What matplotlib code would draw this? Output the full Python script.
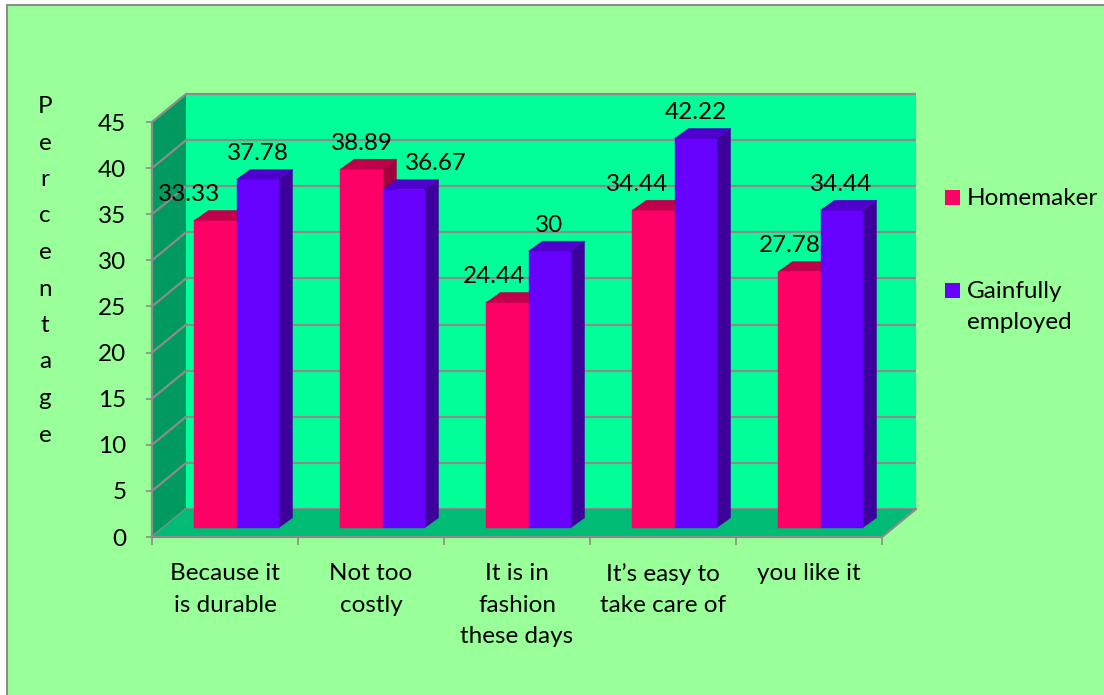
import numpy as np
import matplotlib
matplotlib.use("Agg")
import matplotlib.pyplot as plt
from matplotlib.patches import Rectangle, Polygon

plt.rcParams['font.family'] = ['Lato', 'DejaVu Sans']

# --- 資料 ---
categories = ["Because it\nis durable", "Not too\ncostly", "It is in\nfashion\nthese days",
              "It\u2019s easy to\ntake care of", "you like it"]
homemaker = [33.33, 38.89, 24.44, 34.44, 27.78]
employed = [37.78, 36.67, 30, 42.22, 34.44]
series_names = ["Homemaker", "Gainfully\nemployed"]
y_ticks = list(range(0, 50, 5))

# --- 顏色 ---
bg = "#99FF99"
wall_back = "#00FF99"
wall_side = "#009A60"
floor_col = "#00BB74"
grid_col = "#8C8C8C"
red_front, red_top, red_side = "#FF0066", "#C0004A", "#A0003C"
pur_front, pur_top, pur_side = "#6600FF", "#5000CC", "#3E009A"
fs = 17.5

W, H, DPI = 1104, 695, 100
fig = plt.figure(figsize=(W / DPI, H / DPI), dpi=DPI, facecolor="white")
# 外框
fig.add_artist(Rectangle((7 / W, -0.01), 1.02, (H - 5) / H + 0.01, transform=fig.transFigure,
                         facecolor=bg, edgecolor="#8C8C8C", lw=1.5, zorder=0))

# 軸的像素配置
px_x, px_y = 146.0, 9.222
x0_px, y0_px = 152.0, 537.0
xmax, ymax = 5.35, 48.6
ax = fig.add_axes([x0_px / W, (H - y0_px) / H, xmax * px_x / W, ymax * px_y / H])
ax.set_xlim(0, xmax)
ax.set_ylim(0, ymax)
ax.patch.set_visible(False)

# 3D 偏移 (資料單位)
wdx, wdy = 34 / px_x, 28 / px_y      # 牆的深度
fdx, fdy = 11.5 / px_x, 1.0          # 長條前面的位置
bdx, bdy = 14 / px_x, 10 / px_y      # 長條本身的深度
n = len(categories)

# 背牆、側牆、地板
ax.add_patch(Rectangle((wdx, wdy), n, 45, facecolor=wall_back, lw=0, zorder=1))
ax.add_patch(Polygon([(0, 0), (0, 45), (wdx, 45 + wdy), (wdx, wdy)], closed=True,
                     facecolor=wall_side, lw=0, zorder=1))
ax.add_patch(Polygon([(0, 0), (n, 0), (n + wdx, wdy), (wdx, wdy)], closed=True,
                     facecolor=floor_col, lw=0, zorder=2))
for v in y_ticks:
    ax.plot([wdx, n + wdx], [v + wdy, v + wdy], color=grid_col, lw=1.6, zorder=1.5,
            solid_capstyle="butt")
    ax.plot([0, wdx], [v, v + wdy], color=grid_col, lw=1.6, zorder=1.5)
ax.plot([n, n + wdx], [0, wdy], color=grid_col, lw=1.6, zorder=2.5)

# 長條
width = 0.288
idx = np.arange(n)
centers = idx + 0.5 + fdx
label_shift = [[-26, 0, -13, -16, -10], [0, 32, 0, 0, 0]]
for s, (vals, cf, ct, cs) in enumerate([(homemaker, red_front, red_top, red_side),
                                         (employed, pur_front, pur_top, pur_side)]):
    lefts = centers - width + s * width
    ax.bar(lefts, vals, width=width, bottom=fdy, align="edge", color=cf,
           edgecolor=cf, lw=0.3, zorder=3 + s)
    for i, (xl, v) in enumerate(zip(lefts, vals)):
        top = fdy + v
        ax.add_patch(Polygon([(xl, top), (xl + width, top), (xl + width + bdx, top + bdy),
                              (xl + bdx, top + bdy)], closed=True, facecolor=ct,
                             edgecolor=ct, lw=0.3, zorder=3 + s))
        ax.add_patch(Polygon([(xl + width, fdy), (xl + width, top), (xl + width + bdx, top + bdy),
                              (xl + width + bdx, fdy + bdy)], closed=True, facecolor=cs,
                             edgecolor=cs, lw=0.3, zorder=2.8 + s))
        ax.annotate(f"{v:g}", (xl + width / 2, top), xytext=(label_shift[s][i], 26),
                    textcoords="offset pixels", ha="center", va="center",
                    fontsize=fs, color="black", zorder=10)

# 座標軸
for sp in ["top", "right"]:
    ax.spines[sp].set_visible(False)
ax.spines["left"].set_bounds(0, 45)
ax.spines["bottom"].set_bounds(0, n)
for sp in ["left", "bottom"]:
    ax.spines[sp].set_color(grid_col)
    ax.spines[sp].set_linewidth(1.6)
    ax.spines[sp].set_zorder(2.5)
ax.set_yticks(y_ticks)
ax.tick_params(axis="y", length=4.5, width=1.2, color=grid_col, pad=14, labelsize=fs)
ax.set_xticks(range(n + 1))
ax.set_xticklabels([])
ax.tick_params(axis="x", which="major", length=6, width=1.2, color=grid_col)
ax.set_xticks(idx + 0.5, minor=True)
ax.set_xticklabels(categories, minor=True, fontsize=fs, linespacing=1.6)
ax.tick_params(axis="x", which="minor", length=0, pad=19)

# Y 軸標題 (直排字母)
for k, ch in enumerate("Percentage"):
    fig.text(45 / W, 1 - (113 + 36.5 * k) / H, ch, ha="center", va="baseline", fontsize=fs)

# 圖例
leg = [(red_front, 190), (pur_front, 283)]
for (col, ytop), name in zip(leg, series_names):
    fig.add_artist(Rectangle((945 / W, 1 - (ytop + 14.5) / H), 14.5 / W, 14.5 / H,
                             transform=fig.transFigure, facecolor=col, lw=0))
    for j, line in enumerate(name.split("\n")):
        fig.text(967 / W, 1 - (ytop + 15 + 31 * j) / H, line, ha="left", va="baseline",
                 fontsize=fs)

fig.savefig("out.png", dpi=DPI, facecolor=fig.get_facecolor())
